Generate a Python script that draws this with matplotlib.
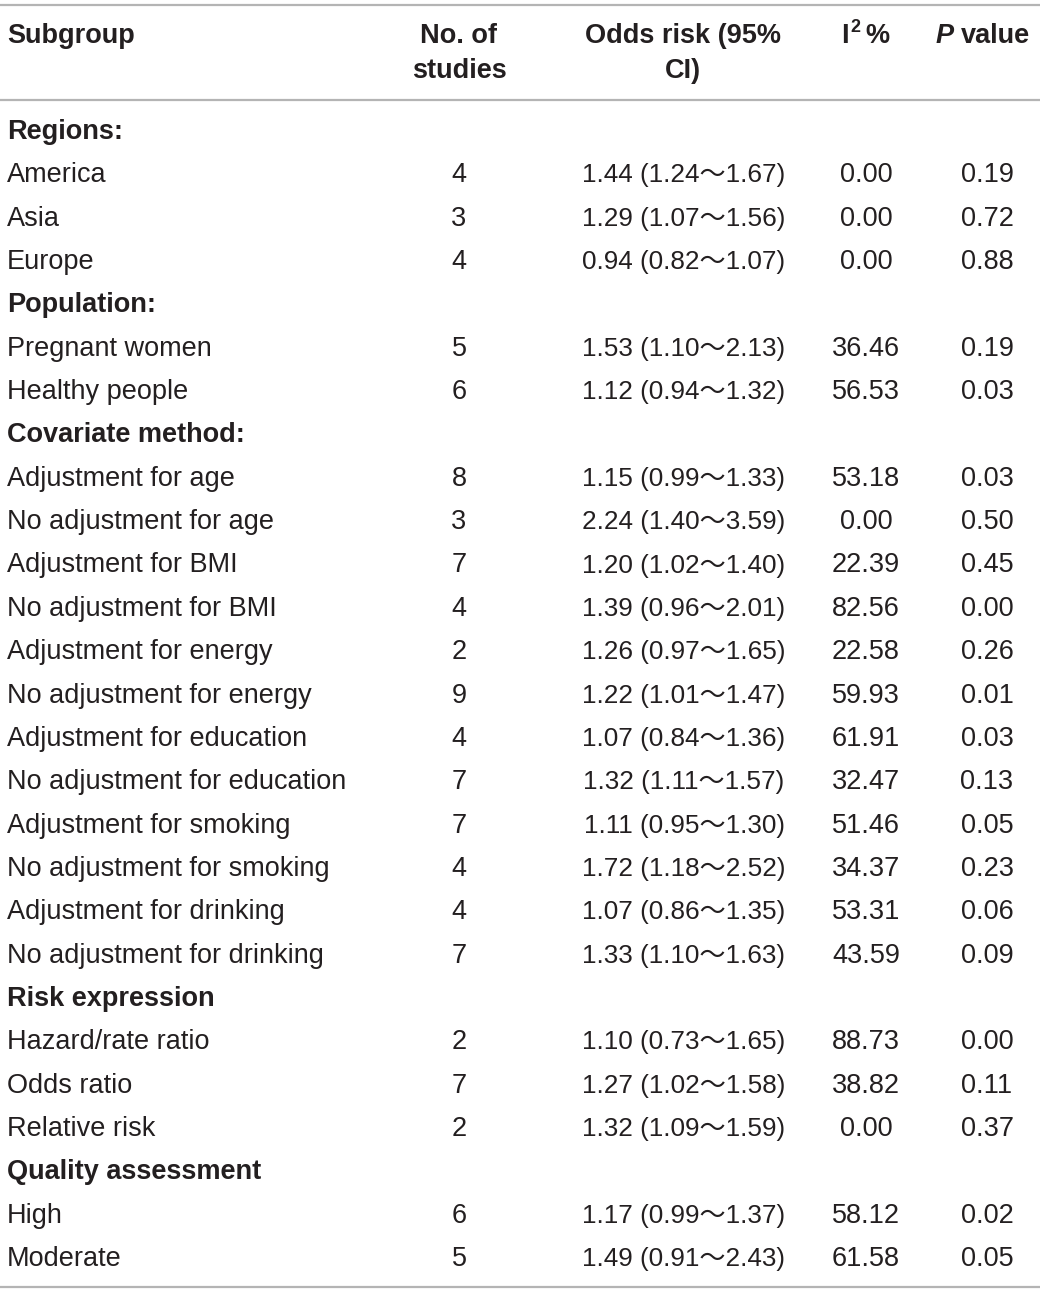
import matplotlib.pyplot as plt

plt.rcParams['font.family'] = ['Liberation Sans', 'Noto Sans CJK SC', 'DejaVu Sans']

# table rows (None = section header)
subgroups = ["Regions:", "America", "Asia", "Europe",
             "Population:", "Pregnant women", "Healthy people",
             "Covariate method:", "Adjustment for age", "No adjustment for age",
             "Adjustment for BMI", "No adjustment for BMI",
             "Adjustment for energy", "No adjustment for energy",
             "Adjustment for education", "No adjustment for education",
             "Adjustment for smoking", "No adjustment for smoking",
             "Adjustment for drinking", "No adjustment for drinking",
             "Risk expression", "Hazard/rate ratio", "Odds ratio", "Relative risk",
             "Quality assessment", "High", "Moderate"]
n_studies = [None, 4, 3, 4, None, 5, 6, None, 8, 3, 7, 4, 2, 9, 4, 7, 7, 4, 4, 7,
             None, 2, 7, 2, None, 6, 5]
odds = [None, 1.44, 1.29, 0.94, None, 1.53, 1.12, None, 1.15, 2.24, 1.20, 1.39,
        1.26, 1.22, 1.07, 1.32, 1.11, 1.72, 1.07, 1.33, None, 1.10, 1.27, 1.32,
        None, 1.17, 1.49]
ci_low = [None, 1.24, 1.07, 0.82, None, 1.10, 0.94, None, 0.99, 1.40, 1.02, 0.96,
          0.97, 1.01, 0.84, 1.11, 0.95, 1.18, 0.86, 1.10, None, 0.73, 1.02, 1.09,
          None, 0.99, 0.91]
ci_high = [None, 1.67, 1.56, 1.07, None, 2.13, 1.32, None, 1.33, 3.59, 1.40, 2.01,
           1.65, 1.47, 1.36, 1.57, 1.30, 2.52, 1.35, 1.63, None, 1.65, 1.58, 1.59,
           None, 1.37, 2.43]
i2 = [None, 0.00, 0.00, 0.00, None, 36.46, 56.53, None, 53.18, 0.00, 22.39, 82.56,
      22.58, 59.93, 61.91, 32.47, 51.46, 34.37, 53.31, 43.59, None, 88.73, 38.82,
      0.00, None, 58.12, 61.58]
p_values = [None, 0.19, 0.72, 0.88, None, 0.19, 0.03, None, 0.03, 0.50, 0.45, 0.00,
            0.26, 0.01, 0.03, 0.13, 0.05, 0.23, 0.06, 0.09, None, 0.00, 0.11, 0.37,
            None, 0.02, 0.05]

W, H = 1040, 1293
fig = plt.figure(figsize=(W / 100, H / 100), dpi=100)
ax = fig.add_axes([0, 0, 1, 1])
ax.set_xlim(0, W)
ax.set_ylim(H, 0)
ax.axis('off')

fs = 19.5
txt = '#231f20'
line_c = '#b4b4b4'

# rules
for y in (5, 100, 1287):
    ax.plot([0, W], [y, y], color=line_c, lw=1.6, solid_capstyle='butt')

# header
hd = dict(fontsize=fs, weight='bold', color=txt, va='center')
ax.text(7, 36, "Subgroup", **hd)
ax.text(459, 36, "No. of", ha='center', **hd)
ax.text(459, 71, "studies", ha='center', **hd)
ax.text(683, 36, "Odds risk (95%", ha='center', **hd)
ax.text(683, 71, "CI)", ha='center', **hd)
ax.text(841, 36, "I", **hd)
ax.text(850, 28, "2", fontsize=13, weight='bold', color=txt, va='center')
ax.text(865, 36, "%", **hd)
ax.text(936, 36, "P", style='italic', **hd)
ax.text(961, 36, "value", **hd)

y0, dy = 132, 43.35
for i, name in enumerate(subgroups):
    y = y0 + i * dy
    if n_studies[i] is None:
        ax.text(7, y, name, fontsize=fs, weight='bold', color=txt, va='center')
        continue
    ax.text(7, y, name, fontsize=fs, color=txt, va='center')
    ax.text(459, y, str(n_studies[i]), fontsize=fs, color=txt, va='center', ha='center')
    ax.text(684, y, f"{odds[i]:.2f} ({ci_low[i]:.2f}～{ci_high[i]:.2f})",
            fontsize=18.8, color=txt, va='center', ha='center')
    ax.text(866, y, f"{i2[i]:.2f}", fontsize=fs, color=txt, va='center', ha='center')
    ax.text(987, y, f"{p_values[i]:.2f}", fontsize=fs, color=txt, va='center', ha='center')

fig.savefig('out.png', dpi=100)
